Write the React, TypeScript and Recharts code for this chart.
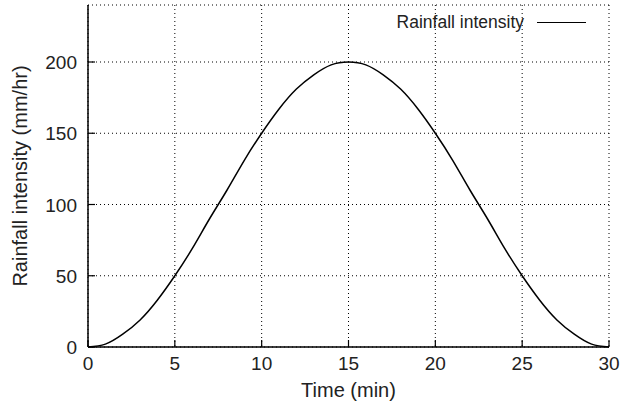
import React from "react";
import { CartesianGrid, Line, LineChart, XAxis, YAxis } from "recharts";

// minutes
const times = [
  0, 1, 2, 3, 4, 5, 6, 7, 8, 9, 10, 11, 12, 13, 14, 15, 16, 17, 18, 19, 20, 21, 22, 23, 24, 25, 26, 27, 28, 29, 30,
];
// mm/hr
const intensity = [
  0, 2, 9, 19, 33, 50, 69, 90, 110, 131, 150, 167, 181, 191, 198, 200, 198, 191, 181, 167, 150, 131, 110, 90, 69, 50,
  33, 19, 9, 2, 0,
];
const xTicks = [0, 5, 10, 15, 20, 25, 30];
const yTicks = [0, 50, 100, 150, 200];
const seriesName = "Rainfall intensity";

const data = times.map((t, i) => ({ t, value: intensity[i] }));

const FONT = '"Liberation Sans", Arial, Helvetica, sans-serif';
const TICK_LEN = 7;

function BottomTick({ x, y, payload }: any) {
  return (
    <g>
      <line x1={x} y1={y} x2={x} y2={y - TICK_LEN} stroke="#000" strokeWidth={1.2} />
      <text x={x} y={y + 23} textAnchor="middle" fontSize={19} fill="#222" fontFamily={FONT}>
        {payload.value}
      </text>
    </g>
  );
}

function TopTick({ x, y }: any) {
  return <line x1={x} y1={y} x2={x} y2={y + TICK_LEN} stroke="#000" strokeWidth={1.2} />;
}

function LeftTick({ x, y, payload }: any) {
  return (
    <g>
      <line x1={x} y1={y} x2={x + TICK_LEN} y2={y} stroke="#000" strokeWidth={1.2} />
      <text x={x - 11} y={y + 7} textAnchor="end" fontSize={19} fill="#222" fontFamily={FONT}>
        {payload.value}
      </text>
    </g>
  );
}

function RightTick({ x, y }: any) {
  return <line x1={x} y1={y} x2={x - TICK_LEN} y2={y} stroke="#000" strokeWidth={1.2} />;
}

export default function App() {
  return (
    <div style={{ position: "absolute", left: 0, top: 0, width: 622, height: 405, background: "#fff" }}>
      <LineChart width={622} height={405} data={data} margin={{ top: 5, right: 13, bottom: 0, left: 0 }}>
        <CartesianGrid stroke="#000" strokeDasharray="1 3" strokeWidth={1} />
        <XAxis
          dataKey="t"
          type="number"
          domain={[0, 30]}
          ticks={xTicks}
          height={58}
          tickSize={0}
          tickMargin={0}
          tickLine={false}
          tick={<BottomTick />}
          axisLine={{ stroke: "#000", strokeWidth: 1.5 }}
          interval={0}
          label={{
            value: "Time (min)",
            position: "insideBottom",
            offset: 8,
            fontSize: 20,
            fill: "#222",
            fontFamily: FONT,
          }}
        />
        <XAxis
          xAxisId="top"
          dataKey="t"
          type="number"
          orientation="top"
          domain={[0, 30]}
          ticks={xTicks}
          height={0}
          tickSize={0}
          tickMargin={0}
          tickLine={false}
          tick={<TopTick />}
          axisLine={{ stroke: "#000", strokeWidth: 1.5 }}
          interval={0}
        />
        <YAxis
          type="number"
          domain={[0, 240]}
          ticks={yTicks}
          width={88}
          tickSize={0}
          tickMargin={0}
          tickLine={false}
          tick={<LeftTick />}
          axisLine={{ stroke: "#000", strokeWidth: 1.5 }}
          interval={0}
          label={{
            value: "Rainfall intensity (mm/hr)",
            angle: -90,
            position: "insideLeft",
            offset: 20,
            style: { textAnchor: "middle" },
            fontSize: 20,
            fill: "#222",
            fontFamily: FONT,
          }}
        />
        <YAxis
          yAxisId="right"
          orientation="right"
          type="number"
          domain={[0, 240]}
          ticks={yTicks}
          width={0}
          tickSize={0}
          tickMargin={0}
          tickLine={false}
          tick={<RightTick />}
          axisLine={{ stroke: "#000", strokeWidth: 1.5 }}
          interval={0}
        />
        <Line
          type="natural"
          dataKey="value"
          name={seriesName}
          stroke="#000"
          strokeWidth={1.5}
          dot={false}
          isAnimationActive={false}
        />
      </LineChart>
      <div
        style={{
          position: "absolute",
          top: 12,
          right: 36,
          display: "flex",
          alignItems: "center",
          fontFamily: FONT,
          fontSize: 17.5,
          color: "#222",
          pointerEvents: "none",
        }}
      >
        <span>{seriesName}</span>
        <span style={{ display: "inline-block", width: 49, height: 0, borderTop: "1.5px solid #000", marginLeft: 13 }} />
      </div>
    </div>
  );
}
